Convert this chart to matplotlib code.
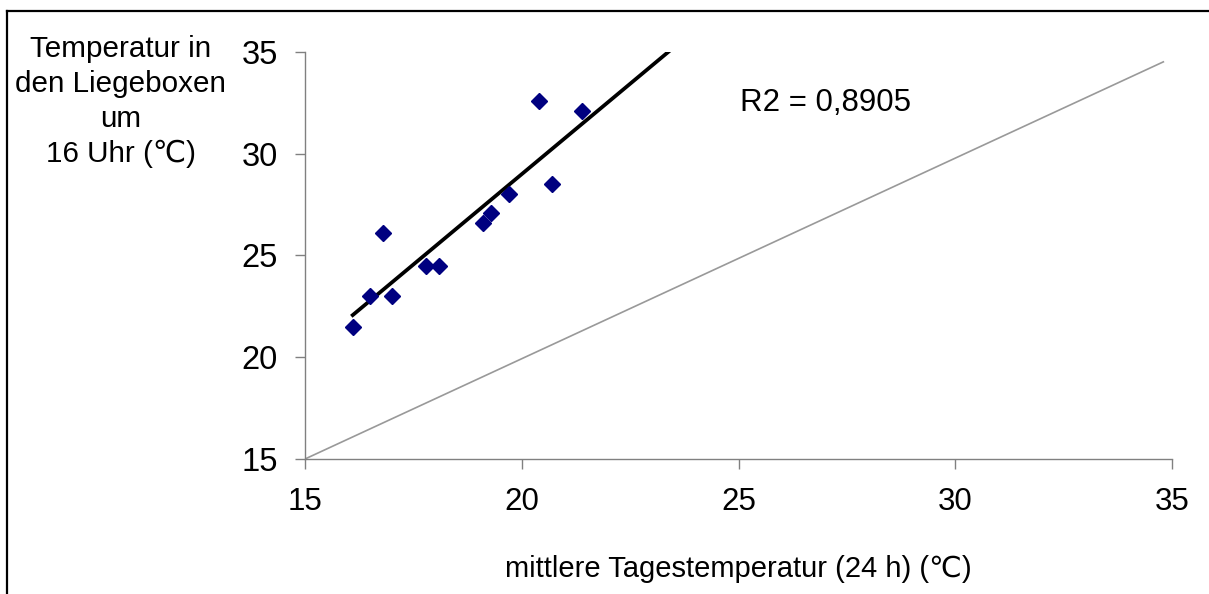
import numpy as np
import matplotlib
matplotlib.use('Agg')
import matplotlib.pyplot as plt
from matplotlib.lines import Line2D

plt.rcParams['font.family'] = ['Liberation Sans', 'DejaVu Sans']

# daily mean temperature vs. cubicle temperature at 16:00
tag_temp = [16.1, 16.5, 16.8, 17.0, 17.8, 18.1, 19.1, 19.3, 19.7, 20.4, 20.7, 21.4]
box_temp = [21.5, 23.0, 26.1, 23.0, 24.5, 24.5, 26.6, 27.1, 28.0, 32.6, 28.5, 32.1]

# grey reference line
ref_x = [15, 34.8]
ref_y = [15, 34.5]

r2_label = 'R2 = 0,8905'
ticks = [15, 20, 25, 30, 35]

fig = plt.figure(figsize=(12.09, 5.94), dpi=100)
ax = fig.add_axes([0.2523, 0.2273, 0.7171, 0.6857])

ax.plot(ref_x, ref_y, '-', color='#999999', lw=1.2, zorder=1)

# linear trend, drawn forward by 2 units like the spreadsheet trendline
slope, icpt = np.polyfit(tag_temp, box_temp, 1)
fit_x = np.array([min(tag_temp), max(tag_temp) + 2])
ax.plot(fit_x, slope * fit_x + icpt, '-', color='black', lw=2.7, zorder=2)

ax.plot(tag_temp, box_temp, 'D', color='#000080', ms=8.5, mec='#000080', zorder=3)

ax.set_xlim(15, 35)
ax.set_ylim(15, 35)
ax.set_xticks(ticks)
ax.set_yticks(ticks)
ax.tick_params(axis='both', color='#808080', length=7.5, width=1)
ax.tick_params(axis='x', pad=13, labelsize=22.5)
ax.tick_params(axis='y', pad=12, labelsize=23.5)
for s in ['top', 'right']:
    ax.spines[s].set_visible(False)
for s in ['left', 'bottom']:
    ax.spines[s].set_color('#808080')
    ax.spines[s].set_linewidth(1)

ax.text(25.03, 32.5, r2_label, fontsize=22.5, va='center', ha='left')

fig.text(0.1, 0.829, 'Temperatur in\nden Liegeboxen\num\n16 Uhr (\u2103)',
         ha='center', va='center', fontsize=21.3, linespacing=1.31)
fig.text(0.611, 0.0286, 'mittlere Tagestemperatur (24 h) (\u2103)',
         ha='center', va='baseline', fontsize=21)

# frame around the chart (only top and left edges are inside the image)
fig.add_artist(Line2D([0.0058, 0.0058], [0, 0.9815], transform=fig.transFigure, color='black', lw=1.6))
fig.add_artist(Line2D([0.0058, 1], [0.9815, 0.9815], transform=fig.transFigure, color='black', lw=1.6))

fig.savefig('out.png', dpi=100)
